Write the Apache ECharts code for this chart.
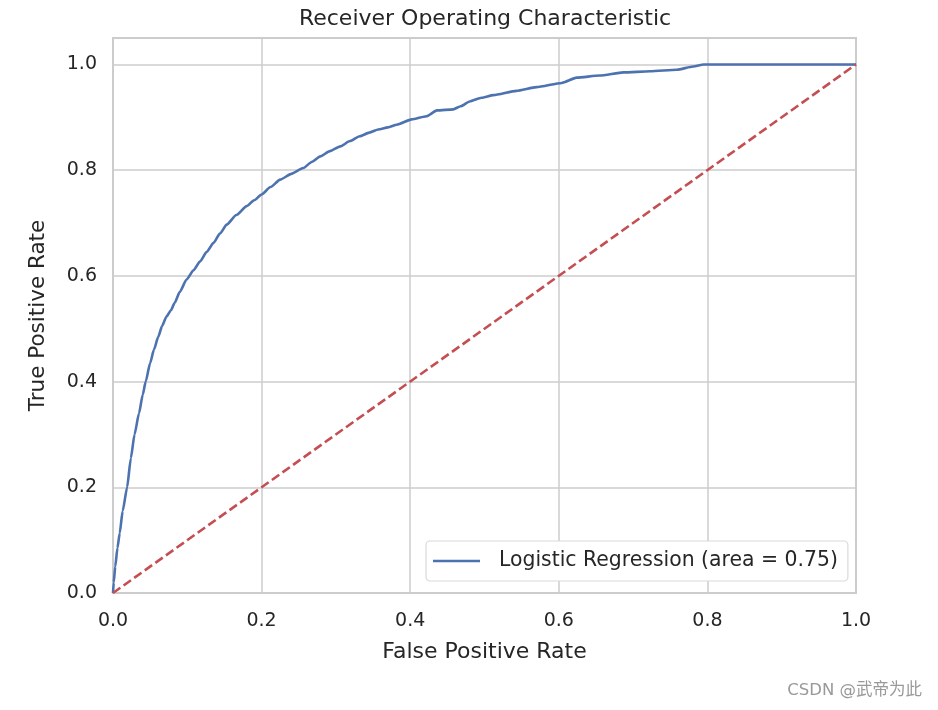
<!DOCTYPE html>
<html>
<head>
<meta charset="utf-8">
<script src="https://cdn.jsdelivr.net/npm/echarts@6/dist/echarts.min.js"></script>
<style>html,body{margin:0;padding:0;background:#fff;}#c{width:938px;height:710px;}</style>
</head>
<body>
<div id="c"></div>
<script>
const fpr = [0, 0.001, 0.003, 0.006, 0.009, 0.013, 0.019, 0.024, 0.029, 0.035, 0.040, 0.044, 0.050, 0.055, 0.061, 0.066, 0.072, 0.078, 0.083, 0.090, 0.099, 0.108, 0.117, 0.126, 0.135, 0.144, 0.153, 0.166, 0.180, 0.190, 0.200, 0.212, 0.225, 0.240, 0.256, 0.268, 0.279, 0.292, 0.306, 0.319, 0.332, 0.345, 0.357, 0.370, 0.382, 0.402, 0.422, 0.436, 0.458, 0.468, 0.480, 0.496, 0.512, 0.543, 0.570, 0.604, 0.624, 0.655, 0.687, 0.723, 0.759, 0.781, 0.795, 0.850, 0.930, 1.0];
const tpr = [0, 0.020, 0.050, 0.085, 0.113, 0.155, 0.200, 0.255, 0.300, 0.340, 0.375, 0.400, 0.435, 0.460, 0.485, 0.505, 0.523, 0.535, 0.549, 0.570, 0.593, 0.610, 0.627, 0.645, 0.662, 0.680, 0.697, 0.715, 0.732, 0.743, 0.754, 0.768, 0.782, 0.793, 0.804, 0.816, 0.826, 0.836, 0.845, 0.855, 0.864, 0.871, 0.877, 0.881, 0.886, 0.896, 0.902, 0.913, 0.915, 0.921, 0.930, 0.937, 0.942, 0.950, 0.957, 0.965, 0.975, 0.979, 0.985, 0.987, 0.990, 0.996, 1.0, 1.0, 1.0, 1.0];
const diagX = [0, 1];
const diagY = [0, 1];
const seriesName = 'Logistic Regression (area = 0.75)';
const titleText = 'Receiver Operating Characteristic';
const xLabel = 'False Positive Rate';
const yLabel = 'True Positive Rate';
const watermark = 'CSDN @武帝为此';

const font = "'DejaVu Sans', 'Liberation Sans', sans-serif";
const txt = '#262626';
const chart = echarts.init(document.getElementById('c'), null, {renderer: 'canvas'});
chart.setOption({
  backgroundColor: '#ffffff',
  animation: false,
  title: {
    text: titleText, left: 485, top: 8, padding: 0, textAlign: 'center',
    textStyle: {fontFamily: font, fontSize: 22, fontWeight: 'normal', color: txt}
  },
  grid: {left: 113, right: 82, top: 38, bottom: 117, show: true, borderColor: '#cccccc', borderWidth: 2, backgroundColor: 'transparent'},
  legend: {
    data: [seriesName], left: 426, top: 541, orient: 'vertical',
    backgroundColor: '#ffffff', borderColor: '#d9d9d9', borderWidth: 1.2, borderRadius: 4,
    padding: [10, 10, 10, 7], icon: 'rect', itemWidth: 47, itemHeight: 2.5,
    textStyle: {fontFamily: font, fontSize: 20.4, color: txt, padding: [0, 0, 0, 14]}
  },
  xAxis: {
    type: 'value', min: 0, max: 1, interval: 0.2,
    name: xLabel, nameLocation: 'middle', nameGap: 48,
    nameTextStyle: {fontFamily: font, fontSize: 22, color: txt},
    axisLine: {show: false}, axisTick: {show: false},
    axisLabel: {fontFamily: font, fontSize: 19, color: txt, margin: 19, formatter: v => v.toFixed(1)},
    splitLine: {show: true, lineStyle: {color: '#cccccc', width: 1.5}}
  },
  yAxis: {
    type: 'value', min: 0, max: 1.05, interval: 0.2,
    name: yLabel, nameLocation: 'middle', nameGap: 64,
    nameTextStyle: {fontFamily: font, fontSize: 21.5, color: txt},
    axisLine: {show: false}, axisTick: {show: false},
    axisLabel: {fontFamily: font, fontSize: 19, color: txt, margin: 16, showMaxLabel: false,
      formatter: v => (v > 1.001 ? '' : v.toFixed(1))},
    splitLine: {show: true, lineStyle: {color: '#cccccc', width: 1.5}}
  },
  series: [
    {
      name: seriesName, type: 'line', showSymbol: false, symbol: 'none',
      smooth: 0.2, smoothMonotone: 'x',
      data: fpr.map((x, i) => [x, tpr[i]]),
      lineStyle: {color: '#4c72b0', width: 2.6}, itemStyle: {color: '#4c72b0'}, z: 3
    },
    {
      type: 'line', showSymbol: false, symbol: 'none',
      data: diagX.map((x, i) => [x, diagY[i]]),
      lineStyle: {color: '#c44e52', width: 2.6, type: [9, 4]}, z: 4
    }
  ],
  graphic: [{
    type: 'text', right: 16, top: 682,
    style: {text: watermark, fontFamily: "'DejaVu Sans', 'Noto Sans CJK SC', sans-serif", fontSize: 16.5, fill: '#999999'}
  }]
});
</script>
</body>
</html>
